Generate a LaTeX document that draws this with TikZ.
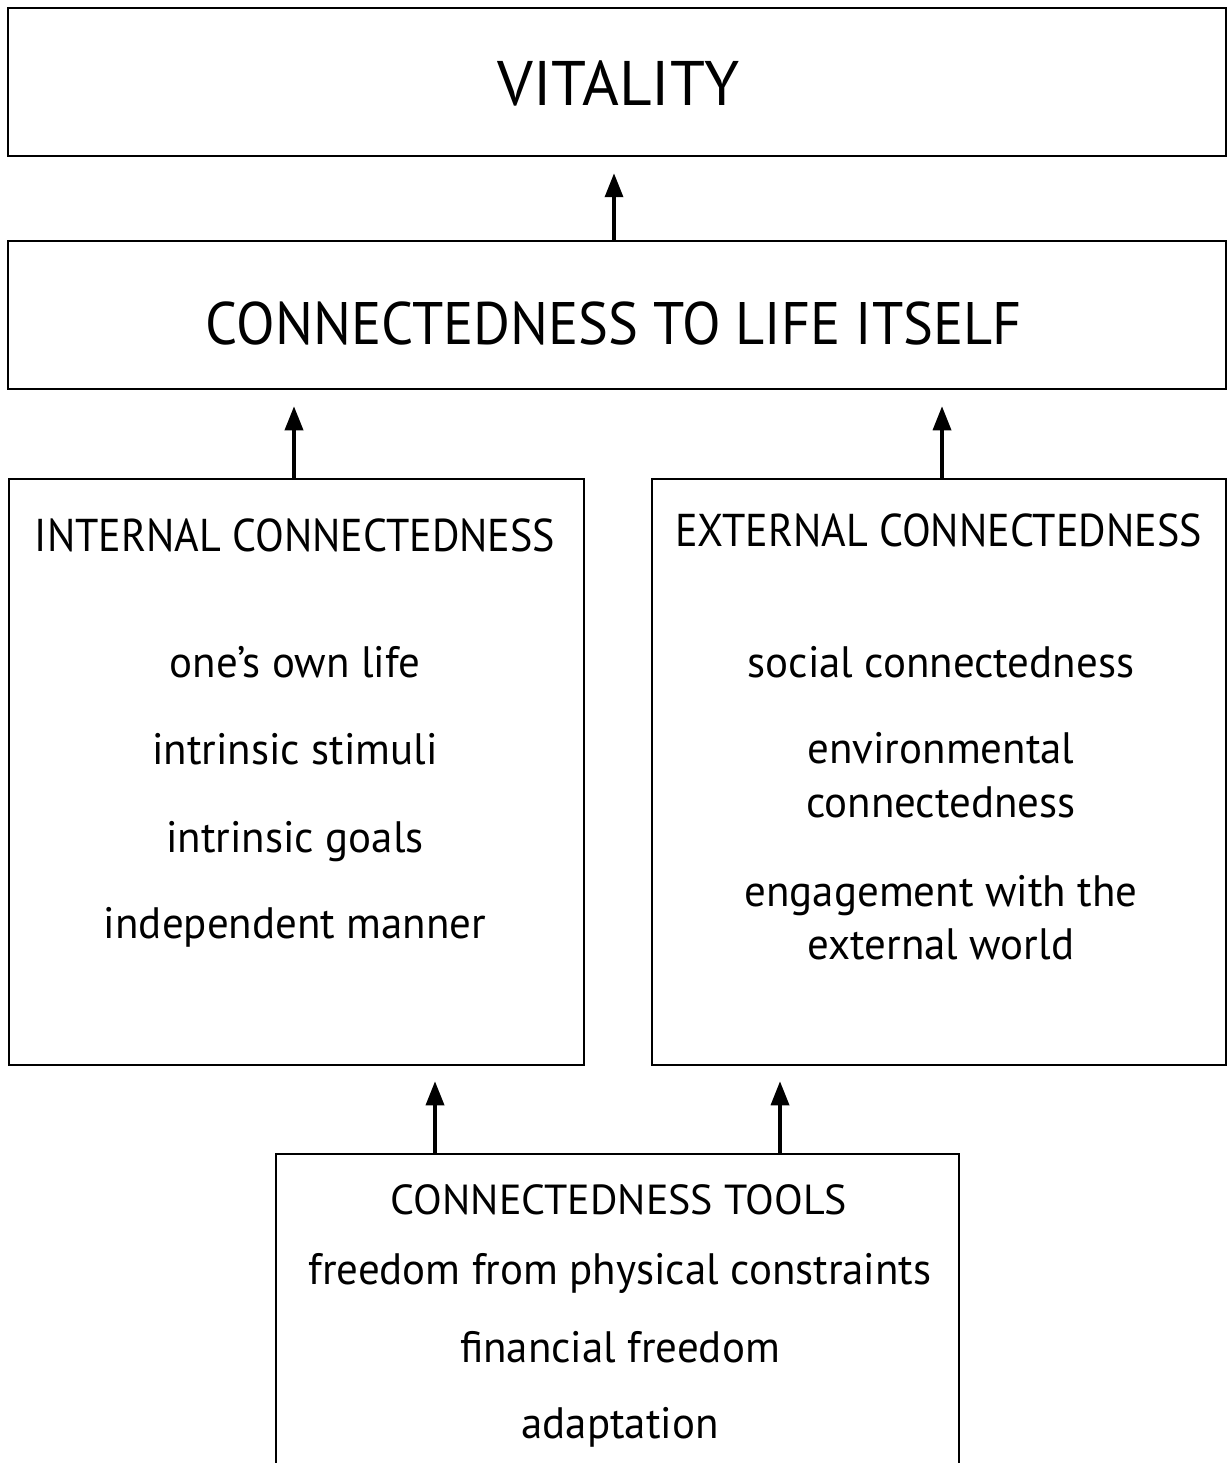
\documentclass[tikz,border=0pt]{standalone}
\usepackage{fontspec}
\setmainfont{PT Sans}
\newfontfamily\capsA[FakeStretch=0.94]{PT Sans}
\newfontfamily\capsB[FakeStretch=0.915]{PT Sans}
\newfontfamily\lowerA[FakeStretch=0.975]{PT Sans}
\usetikzlibrary{arrows.meta,calc}
\tikzset{
  box/.style={draw=black, line width=2.5pt, rectangle, inner sep=0pt, fill=none},
  arr/.style={line width=3.5pt, -{Triangle[length=24pt,width=18pt]}},
  big/.style={anchor=base, inner sep=0pt, font=\fontsize{63}{70}\selectfont},
  head/.style={anchor=base, inner sep=0pt, font=\capsB\fontsize{46}{52}\selectfont},
  item/.style={anchor=base, inner sep=0pt, font=\lowerA\fontsize{44}{50}\selectfont},
}
\begin{document}
\begin{tikzpicture}[x=1pt,y=-1pt]
\useasboundingbox (0,0) rectangle (1227,1463);
\fill[white] (0,0) rectangle (1227,1463);
\clip (0,0) rectangle (1227,1463);
% boxes
\node[box, minimum width=1218pt, minimum height=148pt] (vit) at (617,82) {};
\node[box, minimum width=1218pt, minimum height=148pt] (life) at (617,315) {};
\node[box, minimum width=575pt, minimum height=586pt] (int) at (296.5,772) {};
\node[box, minimum width=574pt, minimum height=586pt] (ext) at (939,772) {};
\node[box, minimum width=683pt, minimum height=330pt] (tools) at (617.5,1319) {};
% titles
\node[big] (tvit) at (618.5,106) {VITALITY};
\node[big, font=\capsA\fontsize{60}{66}\selectfont] (tlife) at (614,344) {CONNECTEDNESS TO LIFE ITSELF};
\node[head] (tint) at (295,551) {INTERNAL CONNECTEDNESS};
\node[head] (text) at (938.5,546) {EXTERNAL CONNECTEDNESS};
% internal items
\node[item] (i1) at (295,677) {one’s own life};
\node[item] (i2) at (295,764) {intrinsic stimuli};
\node[item] (i3) at (295,852) {intrinsic goals};
\node[item] (i4) at (295,938) {independent manner};
% external items
\node[item] (e1) at (941,677) {social connectedness};
\node[item] (e2) at (941,763) {environmental};
\node[item] (e3) at (941,817) {connectedness};
\node[item] (e4) at (941,906) {engagement with the};
\node[item] (e5) at (941,959) {external world};
% tools
\node[anchor=base, inner sep=0pt, font=\fontsize{42}{48}\selectfont] (t0) at (619,1214) {CONNECTEDNESS TOOLS};
\node[item] (t1) at (620,1284) {freedom from physical constraints};
\node[item] (t2) at (620,1362) {financial freedom};
\node[item] (t3) at (620,1438) {adaptation};
% arrows
\coordinate (a1s) at (614,241);
\coordinate (a2s) at (294,479);
\coordinate (a3s) at (942,479);
\coordinate (a4s) at (435,1154);
\coordinate (a5s) at (780,1154);
\draw[arr, shorten >=16pt] (a1s) -- (a1s |- vit.south);
\draw[arr, shorten >=16pt] (a2s) -- (a2s |- life.south);
\draw[arr, shorten >=16pt] (a3s) -- (a3s |- life.south);
\draw[arr, shorten >=15pt] (a4s) -- (a4s |- int.south);
\draw[arr, shorten >=15pt] (a5s) -- (a5s |- ext.south);
\end{tikzpicture}
\end{document}
